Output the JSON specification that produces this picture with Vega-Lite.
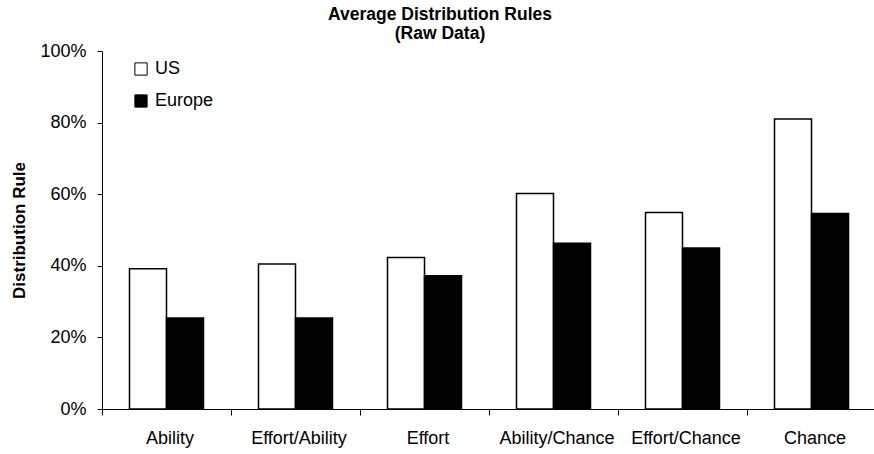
{
  "$schema": "https://vega.github.io/schema/vega-lite/v6.json",
  "autosize": "none",
  "width": 774,
  "height": 358,
  "padding": {"left": 102, "top": 51, "right": 0, "bottom": 45},
  "background": "white",
  "config": {
    "font": "Liberation Sans",
    "view": {"stroke": null}
  },
  "title": {
    "text": ["Average Distribution Rules", "(Raw Data)"],
    "fontSize": 17.5,
    "fontWeight": "bold",
    "color": "black",
    "anchor": "middle",
    "dx": -49,
    "offset": 0,
    "lineHeight": 19
  },
  "data": {
    "values": [
      {"rule": "Ability", "region": "US", "value": 0.392},
      {"rule": "Ability", "region": "Europe", "value": 0.254},
      {"rule": "Effort/Ability", "region": "US", "value": 0.405},
      {"rule": "Effort/Ability", "region": "Europe", "value": 0.254},
      {"rule": "Effort", "region": "US", "value": 0.423},
      {"rule": "Effort", "region": "Europe", "value": 0.372},
      {"rule": "Ability/Chance", "region": "US", "value": 0.602},
      {"rule": "Ability/Chance", "region": "Europe", "value": 0.463},
      {"rule": "Effort/Chance", "region": "US", "value": 0.549},
      {"rule": "Effort/Chance", "region": "Europe", "value": 0.45},
      {"rule": "Chance", "region": "US", "value": 0.81},
      {"rule": "Chance", "region": "Europe", "value": 0.546}
    ]
  },
  "mark": {"type": "bar", "stroke": "black", "strokeWidth": 1.5},
  "encoding": {
    "x": {
      "field": "rule",
      "type": "nominal",
      "sort": null,
      "scale": {"paddingInner": 0, "paddingOuter": 0},
      "axis": {
        "title": null,
        "labelAngle": 0,
        "tickBand": "extent",
        "tickSize": 6,
        "tickColor": "black",
        "domainColor": "black",
        "labelFontSize": 18,
        "labelColor": "black",
        "labelPadding": 14,
        "labelOffset": 3
      }
    },
    "xOffset": {
      "field": "region",
      "type": "nominal",
      "sort": ["US", "Europe"],
      "scale": {"paddingOuter": 0.743, "paddingInner": 0}
    },
    "y": {
      "field": "value",
      "type": "quantitative",
      "scale": {"domain": [0, 1], "nice": false},
      "axis": {
        "title": "Distribution Rule",
        "titleFontSize": 17,
        "titleFontWeight": "bold",
        "titleColor": "black",
        "titlePadding": 11,
        "format": ".0%",
        "values": [0, 0.2, 0.4, 0.6, 0.8, 1],
        "grid": false,
        "tickSize": 5,
        "tickColor": "black",
        "domainColor": "black",
        "labelFontSize": 18,
        "labelColor": "black",
        "labelPadding": 11
      }
    },
    "fill": {
      "field": "region",
      "type": "nominal",
      "sort": ["US", "Europe"],
      "scale": {"domain": ["US", "Europe"], "range": ["white", "black"]},
      "legend": {
        "title": null,
        "orient": "none",
        "legendX": 30,
        "legendY": 9,
        "symbolType": "square",
        "symbolSize": 150,
        "symbolStrokeColor": "black",
        "symbolStrokeWidth": 1,
        "labelFontSize": 18,
        "labelColor": "black",
        "labelOffset": 5,
        "rowPadding": 14
      }
    }
  }
}
